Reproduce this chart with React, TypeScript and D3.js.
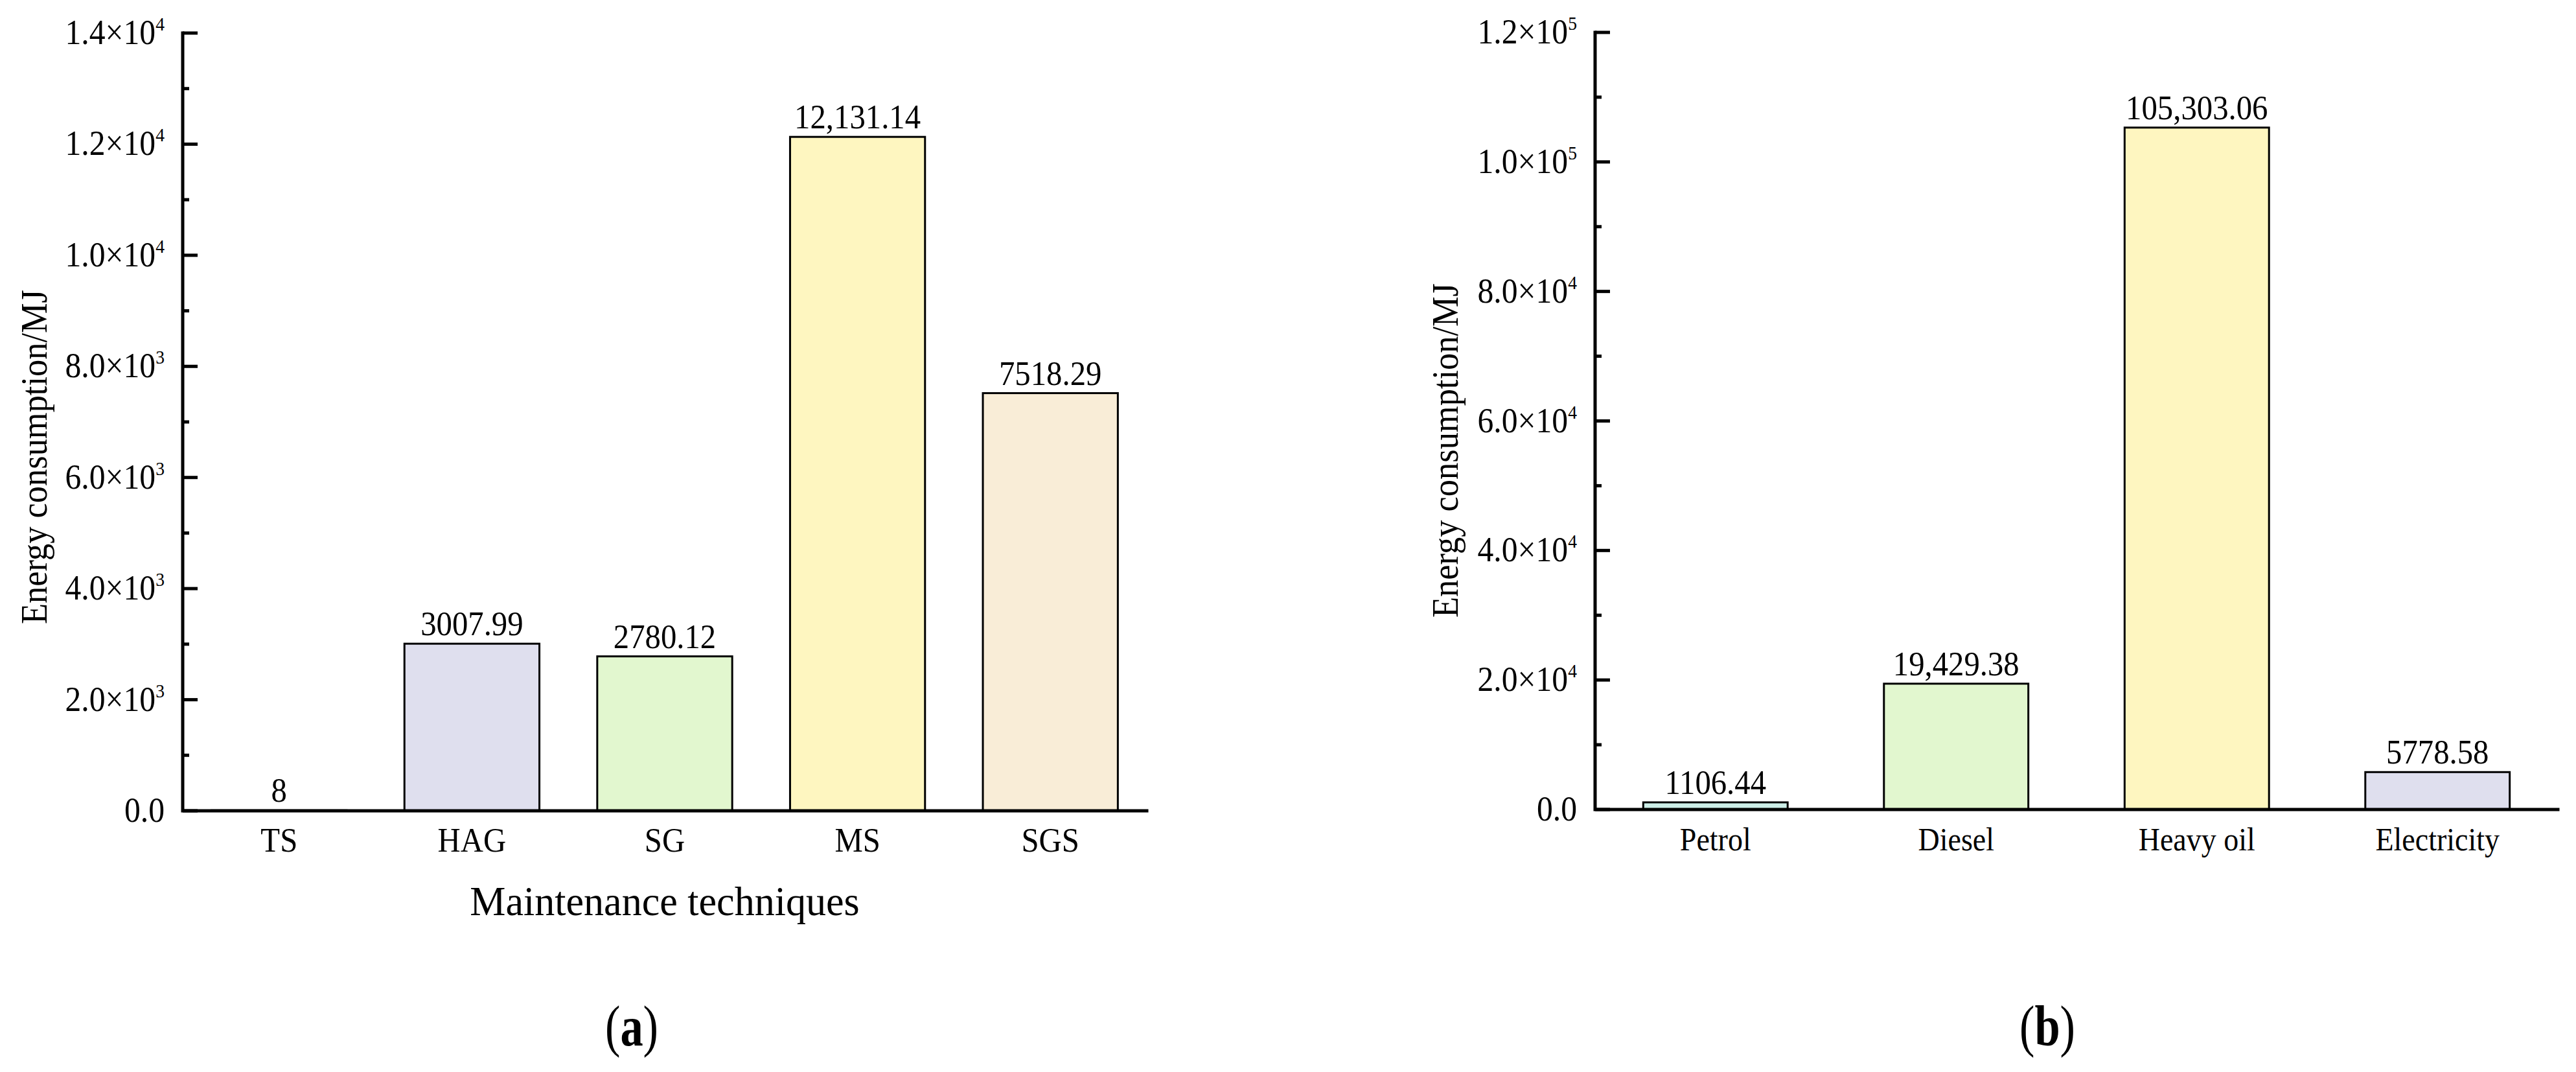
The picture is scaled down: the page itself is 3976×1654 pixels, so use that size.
import React from "react";
import * as d3 from "d3";

// ---------- Data ----------
const catsA = ["TS", "HAG", "SG", "MS", "SGS"];
const valsA = [8, 3007.99, 2780.12, 12131.14, 7518.29];
const valLabelsA = ["8", "3007.99", "2780.12", "12,131.14", "7518.29"];
const colorsA = ["#CDEFE8", "#DFDFEE", "#E2F7CF", "#FEF6C0", "#F9EDD7"];
const ticksA = [0, 2000, 4000, 6000, 8000, 10000, 12000, 14000];
const tickMantA = ["0.0", "2.0×10", "4.0×10", "6.0×10", "8.0×10", "1.0×10", "1.2×10", "1.4×10"];
const tickExpA = ["", "3", "3", "3", "3", "4", "4", "4"];
const minorA = [1000, 3000, 5000, 7000, 9000, 11000, 13000];

const catsB = ["Petrol", "Diesel", "Heavy oil", "Electricity"];
const valsB = [1106.44, 19429.38, 105303.06, 5778.58];
const valLabelsB = ["1106.44", "19,429.38", "105,303.06", "5778.58"];
const colorsB = ["#CDEFE8", "#E2F7CF", "#FEF6C0", "#DFDFEE"];
const ticksB = [0, 20000, 40000, 60000, 80000, 100000, 120000];
const tickMantB = ["0.0", "2.0×10", "4.0×10", "6.0×10", "8.0×10", "1.0×10", "1.2×10"];
const tickExpB = ["", "4", "4", "4", "4", "5", "5"];
const minorB = [10000, 30000, 50000, 70000, 90000, 110000];

const yTitle = "Energy consumption/MJ";
const xTitleA = "Maintenance techniques";

const FONT = '"Liberation Serif", "Times New Roman", serif';

function Panel({
  cats, vals, valLabels, colors, ticks, mant, exp, minor,
  x0, x1, yTop, yBot, max, padInner, catSize, titleX, titleY,
}: any) {
  const x = d3.scaleBand<string>().domain(cats).range([x0, x1])
    .paddingInner(padInner).paddingOuter(padInner / 2);
  const y = d3.scaleLinear().domain([0, max]).range([yBot, yTop]);
  const sx = 0.92;
  return (
    <g fontFamily={FONT} fill="#000">
      {cats.map((c: string, i: number) => {
        const bx = x(c)!;
        const by = y(vals[i]);
        return (
          <g key={c}>
            <rect x={bx} y={by} width={x.bandwidth()} height={y(0) - by}
              fill={colors[i]} stroke="#000" strokeWidth={3} />
            <text transform={`translate(${bx + x.bandwidth() / 2},${by - 13}) scale(${sx},1)`}
              textAnchor="middle" fontSize={53}>{valLabels[i]}</text>
            <text transform={`translate(${bx + x.bandwidth() / 2},${y(0) + 63}) scale(${sx},1)`}
              textAnchor="middle" fontSize={catSize}>{c}</text>
          </g>
        );
      })}
      {/* axes */}
      <path d={`M${x0},${y(max)} L${x0},${y(0)} L${x1},${y(0)}`} fill="none"
        stroke="#000" strokeWidth={5} strokeLinecap="square" />
      {ticks.map((t: number, i: number) => (
        <g key={"t" + t}>
          <line x1={x0} x2={x0 + 23} y1={y(t)} y2={y(t)} stroke="#000" strokeWidth={5} />
          <text transform={`translate(${x0 - 28},${y(t) + 17}) scale(${sx},1)`}
            textAnchor="end" fontSize={54}>
            {mant[i]}
            {exp[i] ? <tspan dy={-21} fontSize={30}>{exp[i]}</tspan> : null}
          </text>
        </g>
      ))}
      {minor.map((t: number) => (
        <line key={"m" + t} x1={x0} x2={x0 + 10} y1={y(t)} y2={y(t)} stroke="#000" strokeWidth={5} />
      ))}
      <text transform={`translate(${titleX},${titleY}) rotate(-90) scale(${sx},1)`}
        textAnchor="middle" fontSize={57}>{yTitle}</text>
    </g>
  );
}

export default function App() {
  return (
    <svg width={3976} height={1654} style={{ position: "absolute", left: 0, top: 0, background: "#fff" }}>
      <rect width={3976} height={1654} fill="#fff" />
      <Panel cats={catsA} vals={valsA} valLabels={valLabelsA} colors={colorsA}
        ticks={ticksA} mant={tickMantA} exp={tickExpA} minor={minorA}
        x0={282} x1={1770} yTop={51} yBot={1251} max={14000} padInner={0.3}
        catSize={53} titleX={72} titleY={705} />
      <Panel cats={catsB} vals={valsB} valLabels={valLabelsB} colors={colorsB}
        ticks={ticksB} mant={tickMantB} exp={tickExpB} minor={minorB}
        x0={2462} x1={3948} yTop={50} yBot={1249} max={120000} padInner={0.4}
        catSize={50} titleX={2250} titleY={695} />
      <text transform={`translate(1026,1412) scale(0.97,1)`} textAnchor="middle"
        fontSize={64} fontFamily={FONT}>{xTitleA}</text>
      <text transform={`translate(975,1613) scale(0.8,1)`} textAnchor="middle"
        fontSize={88} fontFamily={FONT}>(<tspan fontWeight="bold">a</tspan>)</text>
      <text transform={`translate(3160,1613) scale(0.8,1)`} textAnchor="middle"
        fontSize={88} fontFamily={FONT}>(<tspan fontWeight="bold">b</tspan>)</text>
    </svg>
  );
}
